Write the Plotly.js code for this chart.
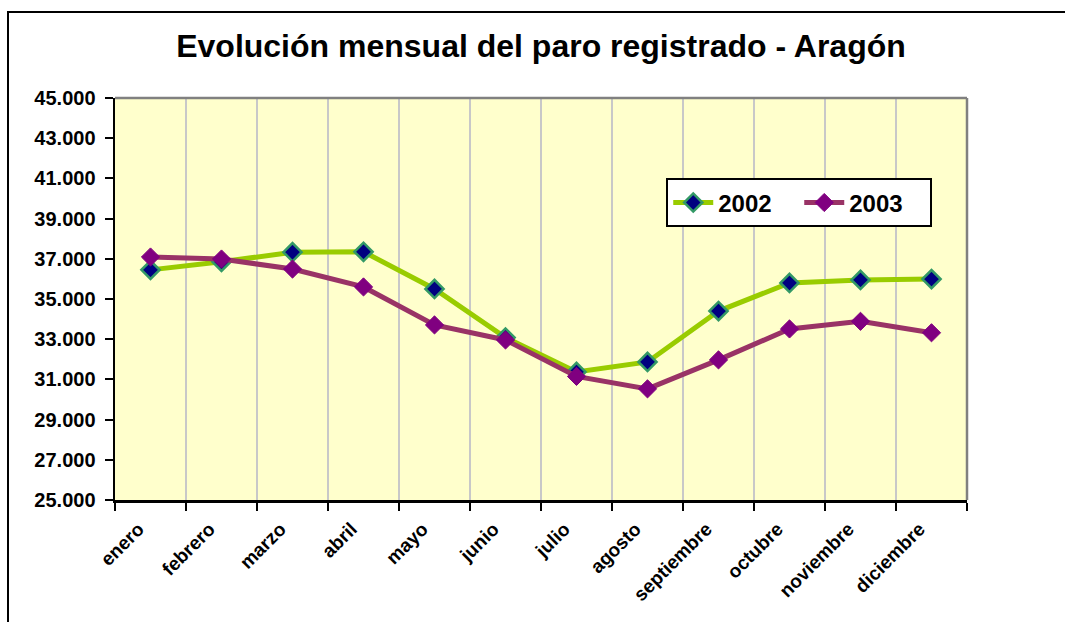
<!DOCTYPE html>
<html>
<head>
<meta charset="utf-8">
<script src="https://cdn.plot.ly/plotly-3.0.1.min.js"></script>
<style>
  html, body { margin: 0; padding: 0; background: #ffffff; }
  #wrap { position: relative; width: 1065px; height: 622px; overflow: hidden; }
  #chart { position: absolute; left: 0; top: 0; width: 1065px; height: 622px; }
  #frame { position: absolute; left: 7px; top: 11px; width: 1100px; height: 700px;
           border: 2px solid #000; pointer-events: none; }
</style>
</head>
<body>
<div id="wrap">
  <div id="chart"></div>
  <div id="frame"></div>
</div>
<script>
const months = ["enero","febrero","marzo","abril","mayo","junio","julio","agosto","septiembre","octubre","noviembre","diciembre"];
const paro2002 = [36450, 36850, 37330, 37350, 35500, 33080, 31370, 31870, 34400, 35800, 35950, 35990];
const paro2003 = [37090, 36990, 36490, 35600, 33710, 32960, 31150, 30530, 31970, 33510, 33890, 33320];
const yTicks = [25000, 27000, 29000, 31000, 33000, 35000, 37000, 39000, 41000, 43000, 45000];
const yTickLabels = ["25.000","27.000","29.000","31.000","33.000","35.000","37.000","39.000","41.000","43.000","45.000"];

const font = "Liberation Sans, Arial, sans-serif";

const traces = [
  {
    x: months, y: paro2002, name: "<b>2002</b>", type: "scatter", mode: "lines+markers",
    line: { color: "#99CC00", width: 5 },
    marker: { symbol: "diamond", size: 14, color: "#000080", line: { color: "#339966", width: 2.5 } }
  },
  {
    x: months, y: paro2003, name: "<b>2003</b>", type: "scatter", mode: "lines+markers",
    line: { color: "#993366", width: 5 },
    marker: { symbol: "diamond", size: 14, color: "#800080", line: { color: "#800080", width: 1 } }
  }
];

const layout = {
  width: 1065, height: 622,
  margin: { l: 115, r: 98, t: 98, b: 122 },
  paper_bgcolor: "rgba(0,0,0,0)",
  plot_bgcolor: "#FFFFCC",
  font: { family: font, color: "#000" },
  title: {
    text: "<b>Evolución mensual del paro registrado - Aragón</b>",
    font: { family: font, size: 32, color: "#000" },
    x: 0.5, xref: "paper", xanchor: "center",
    y: 0.927, yref: "container", yanchor: "middle"
  },
  xaxis: {
    type: "category",
    range: [-0.5, 11.5],
    tickson: "boundaries",
    tickmode: "array",
    tickvals: months,
    ticktext: months.map(m => "<b>" + m + "</b>"),
    showgrid: true, gridcolor: "#C8C8C8", gridwidth: 1.5,
    showline: true, linecolor: "#000", linewidth: 2.5,
    ticks: "outside", ticklen: 8, tickwidth: 2, tickcolor: "#000",
    tickangle: -45,
    ticklabelstandoff: 8,
    ticklabelshift: -12,
    tickfont: { family: font, size: 19, color: "#000" },
    zeroline: false, fixedrange: true
  },
  yaxis: {
    range: [25000, 45000],
    tickmode: "array",
    tickvals: yTicks,
    ticktext: yTickLabels.map(t => "<b>" + t + "</b>"),
    showgrid: false,
    showline: true, linecolor: "#000", linewidth: 2.5,
    ticks: "outside", ticklen: 8, tickwidth: 2, tickcolor: "#000",
    ticklabelstandoff: 5,
    tickfont: { family: font, size: 20, color: "#000" },
    zeroline: false, fixedrange: true
  },
  shapes: [
    { type: "line", xref: "paper", yref: "paper", x0: 0, x1: 1, y0: 1, y1: 1, line: { color: "#808080", width: 2.5 } },
    { type: "line", xref: "paper", yref: "paper", x0: 1, x1: 1, y0: 0, y1: 1, line: { color: "#808080", width: 2.5 } }
  ],
  showlegend: true,
  legend: {
    orientation: "h",
    x: 0.647, xanchor: "left", y: 0.8, yanchor: "top",
    bgcolor: "#FFFFFF", bordercolor: "#000", borderwidth: 2,
    font: { family: font, size: 24, color: "#000" },
    itemwidth: 40,
    entrywidth: 76
  }
};

Plotly.newPlot("chart", traces, layout, { displayModeBar: false, staticPlot: true });
</script>
</body>
</html>
